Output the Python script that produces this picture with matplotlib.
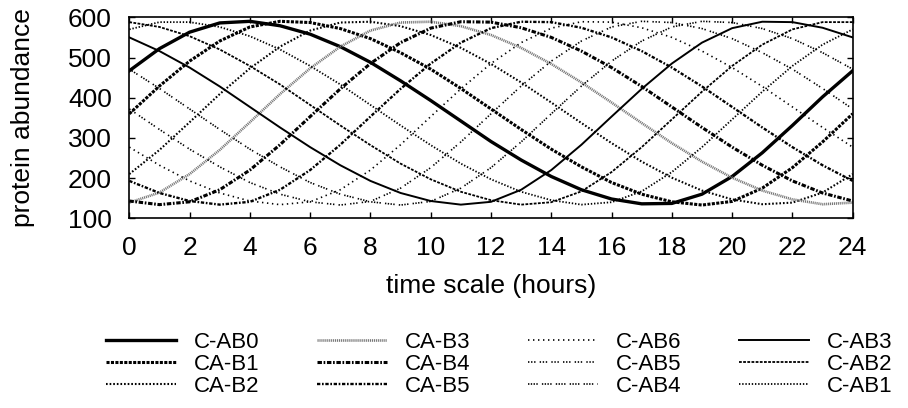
import matplotlib
matplotlib.use("Agg")
import matplotlib.pyplot as plt

plt.rcParams['font.family'] = ['Liberation Sans', 'DejaVu Sans']
plt.rcParams['lines.scale_dashes'] = False

# time axis (hours), one sample per hour
hours = list(range(25))

# protein abundance, hourly
c_ab0 = [467, 522, 563, 586, 590, 579, 558, 527, 488, 442, 393, 342, 291,
         245, 204, 171, 148, 136, 137, 160, 204, 263, 331, 402, 467]
ca_b1 = [360, 429, 491, 541, 576, 590, 587, 572, 547, 512, 471, 423, 372,
         321, 272, 228, 189, 160, 141, 133, 142, 175, 226, 290, 360]
ca_b2 = [210, 270, 339, 409, 473, 527, 567, 587, 589, 578, 556, 524, 484,
         438, 388, 337, 287, 241, 201, 169, 147, 135, 139, 164, 210]
ca_b3 = [139, 164, 210, 270, 339, 409, 473, 527, 567, 587, 589, 578, 556,
         524, 484, 438, 388, 337, 287, 241, 201, 169, 147, 135, 139]
ca_b4 = [143, 134, 141, 171, 220, 283, 353, 422, 485, 537, 573, 589, 588,
         574, 550, 516, 475, 428, 377, 326, 277, 232, 193, 163, 143]
ca_b5 = [193, 163, 143, 134, 141, 171, 220, 283, 353, 422, 485, 537, 573,
         589, 588, 574, 550, 516, 475, 428, 377, 326, 277, 232, 193]
c_ab6 = [277, 232, 193, 163, 143, 134, 141, 171, 220, 283, 353, 422, 485,
         537, 573, 589, 588, 574, 550, 516, 475, 428, 377, 326, 277]
c_ab5 = [372, 321, 272, 228, 189, 160, 141, 133, 142, 175, 226, 290, 360,
         429, 491, 541, 576, 590, 587, 572, 547, 512, 471, 423, 372]
c_ab4 = [471, 423, 372, 321, 272, 228, 189, 160, 141, 133, 142, 175, 226,
         290, 360, 429, 491, 541, 576, 590, 587, 572, 547, 512, 471]
c_ab3 = [550, 516, 475, 428, 377, 326, 277, 232, 193, 163, 143, 134, 141,
         171, 220, 283, 353, 422, 485, 537, 573, 589, 588, 574, 550]
c_ab2 = [588, 576, 553, 520, 479, 433, 382, 331, 282, 236, 197, 166, 145,
         134, 140, 167, 215, 277, 346, 415, 479, 532, 570, 588, 588]
c_ab1 = [570, 588, 588, 576, 553, 520, 479, 433, 382, 331, 282, 236, 197,
         166, 145, 134, 140, 167, 215, 277, 346, 415, 479, 532, 570]

labels = ['C-AB0', 'CA-B1', 'CA-B2', 'CA-B3', 'CA-B4', 'CA-B5',
          'C-AB6', 'C-AB5', 'C-AB4', 'C-AB3', 'C-AB2', 'C-AB1']
series = [c_ab0, ca_b1, ca_b2, ca_b3, ca_b4, ca_b5,
          c_ab6, c_ab5, c_ab4, c_ab3, c_ab2, c_ab1]

# (linewidth, dash pattern or None, colour) - gnuplot style mono dashes
styles = [
    (2.4, None, 'black'),
    (2.2, (2.2, 1.0), 'black'),
    (1.5, (1.2, 1.4), 'black'),
    (1.9, (0.8, 0.6), '#777777'),
    (2.2, (3.2, 1.2, 1.2, 1.2), 'black'),
    (1.7, (2.4, 1.2, 1.2, 1.2), 'black'),
    (1.2, (1.0, 2.6), 'black'),
    (1.2, (1.0, 1.2, 1.0, 1.2, 1.0, 3.0), 'black'),
    (1.2, (1.0, 1.0, 1.0, 1.0, 1.0, 1.0, 1.0, 3.0), 'black'),
    (1.4, None, 'black'),
    (1.3, (2.0, 1.0), 'black'),
    (1.3, (1.0, 1.3), 'black'),
]

fig = plt.figure(figsize=(9.08, 4.08), dpi=100)
ax = fig.add_axes([129.3 / 908, 1 - 218.3 / 408, 723.4 / 908, 201.0 / 408])

handles = []
for vals, lab, (lw, dash, col) in zip(series, labels, styles):
    if dash is None:
        ln, = ax.plot(hours, vals, color=col, lw=lw, label=lab)
    else:
        ln, = ax.plot(hours, vals, color=col, lw=lw, label=lab,
                      dashes=dash)
    handles.append(ln)

ax.set_xlim(0, 24)
ax.set_ylim(100, 600)
ax.set_xticks(range(0, 25, 2))
ax.set_yticks(range(100, 601, 100))
ax.tick_params(direction='in', top=True, right=True, length=4,
               width=1, labelsize=19, pad=12.5)
for sp in ax.spines.values():
    sp.set_linewidth(1.2)

ax.set_xlabel('time scale (hours)', fontsize=19, labelpad=10)
ax.set_ylabel('protein abundance', fontsize=19, labelpad=24)

fig.legend(handles, labels, ncol=4, loc='upper left',
           bbox_to_anchor=(106 / 908, 1 - 331.5 / 408), frameon=False,
           fontsize=16, handlelength=3.15, handletextpad=0.8,
           columnspacing=2.6, labelspacing=0.05, borderpad=0,
           borderaxespad=0)

fig.savefig('out.png', dpi=100)
